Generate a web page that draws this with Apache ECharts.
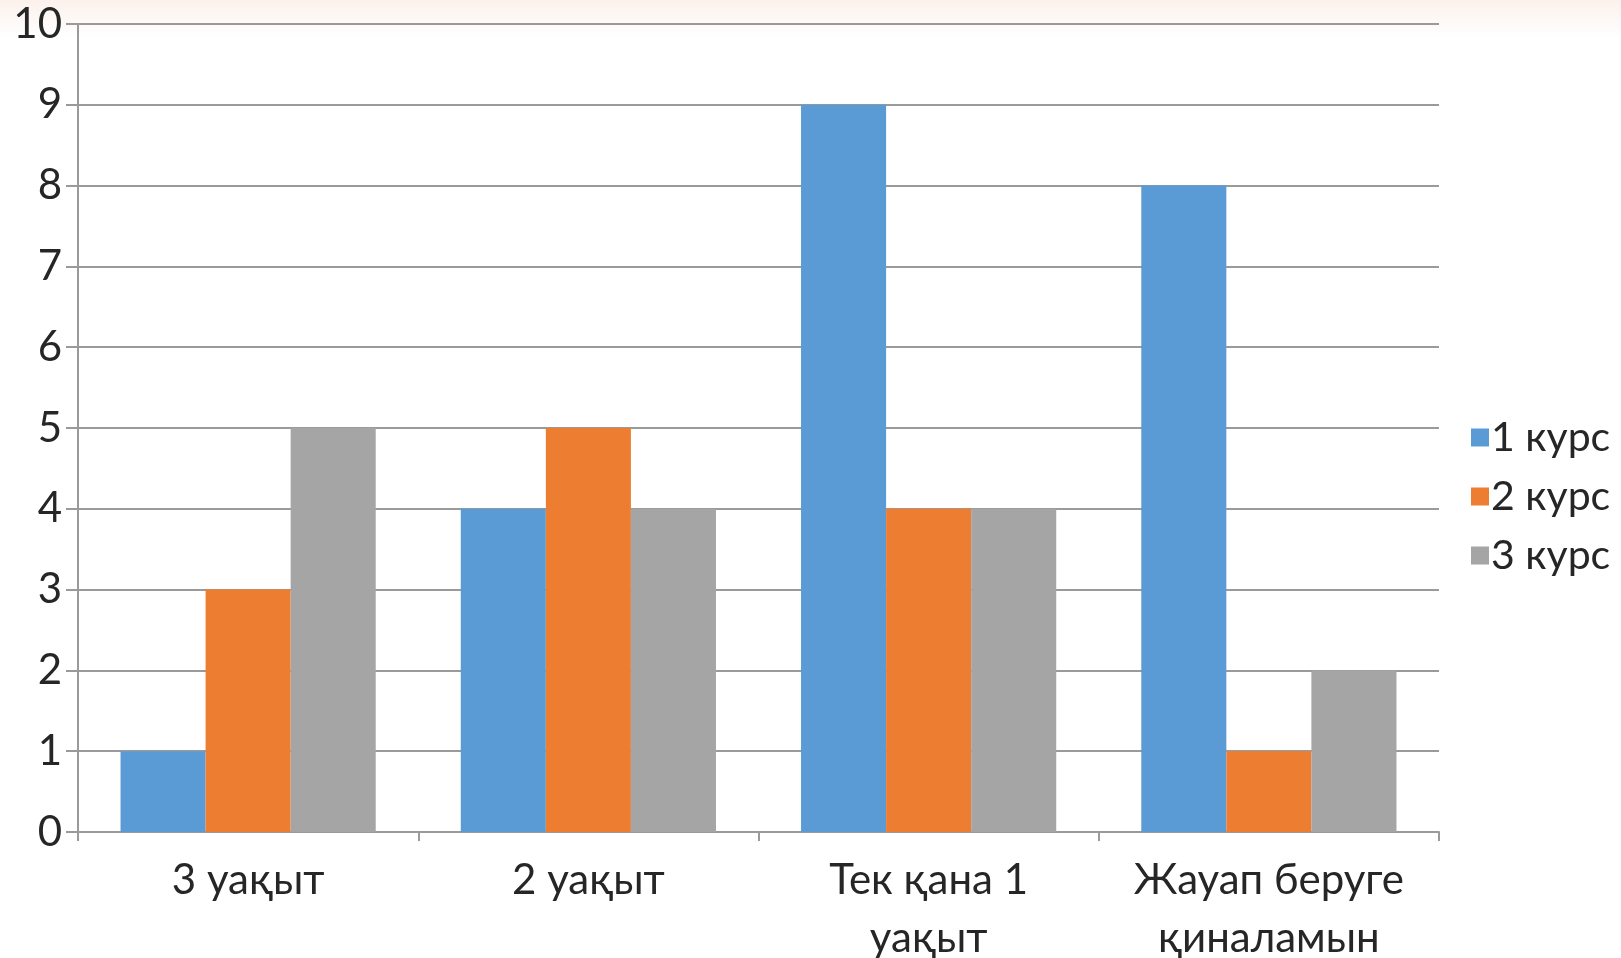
<!DOCTYPE html>
<html>
<head>
<meta charset="utf-8">
<script src="https://cdn.jsdelivr.net/npm/echarts@6/dist/echarts.min.js"></script>
<style>
html,body{margin:0;padding:0;background:#fff;}
#chart{width:1621px;height:958px;}
</style>
</head>
<body>
<div id="chart"></div>
<script>
const categories = ['3 уақыт', '2 уақыт', 'Тек қана 1\nуақыт', 'Жауап беруге\nқиналамын'];
const seriesNames = ['1 курс', '2 курс', '3 курс'];
const kurs1 = [1, 4, 9, 8];
const kurs2 = [3, 5, 4, 1];
const kurs3 = [5, 4, 4, 2];
const colors = ['#5B9BD5', '#ED7D31', '#A5A5A5'];

const FONT = 'Lato, "Open Sans", sans-serif';
const chart = echarts.init(document.getElementById('chart'), null, {renderer: 'canvas'});
const values = [kurs1, kurs2, kurs3];
chart.setOption({
  backgroundColor: {
    type: 'linear', x: 0, y: 0, x2: 0, y2: 1,
    colorStops: [
      {offset: 0, color: '#fcf1ec'},
      {offset: 0.04, color: '#ffffff'},
      {offset: 1, color: '#ffffff'}
    ]
  },
  animation: false,
  textStyle: {fontFamily: FONT},
  grid: {left: 78, right: 182, top: 24, bottom: 126, containLabel: false, outerBoundsMode: 'none'},
  legend: {
    orient: 'vertical',
    left: 1466,
    top: 412,
    icon: 'rect',
    itemWidth: 18,
    itemHeight: 18,
    itemGap: 18,
    textStyle: {fontSize: 41, color: '#262626', fontFamily: FONT, lineHeight: 40, padding: [0, 0, 0, -3]},
    data: seriesNames
  },
  xAxis: {
    type: 'category',
    data: categories,
    axisLine: {show: true, lineStyle: {color: '#9a9a9a', width: 2}},
    axisTick: {show: true, length: 9, lineStyle: {color: '#9a9a9a', width: 2}},
    axisLabel: {fontSize: 42, color: '#262626', margin: 19, lineHeight: 58, fontFamily: FONT, interval: 0},
    splitLine: {show: false}
  },
  yAxis: {
    type: 'value',
    min: 0, max: 10, interval: 1,
    axisLine: {show: true, lineStyle: {color: '#9a9a9a', width: 2}},
    axisTick: {show: true, length: 12, lineStyle: {color: '#9a9a9a', width: 2}},
    axisLabel: {fontSize: 42, color: '#262626', margin: 16, fontFamily: FONT},
    splitLine: {show: true, lineStyle: {color: '#9a9a9a', width: 2}}
  },
  series: seriesNames.map((n, i) => ({
    name: n,
    type: 'bar',
    data: values[i],
    barGap: '0%',
    barCategoryGap: '25%',
    itemStyle: {color: colors[i]}
  }))
});
</script>
</body>
</html>
